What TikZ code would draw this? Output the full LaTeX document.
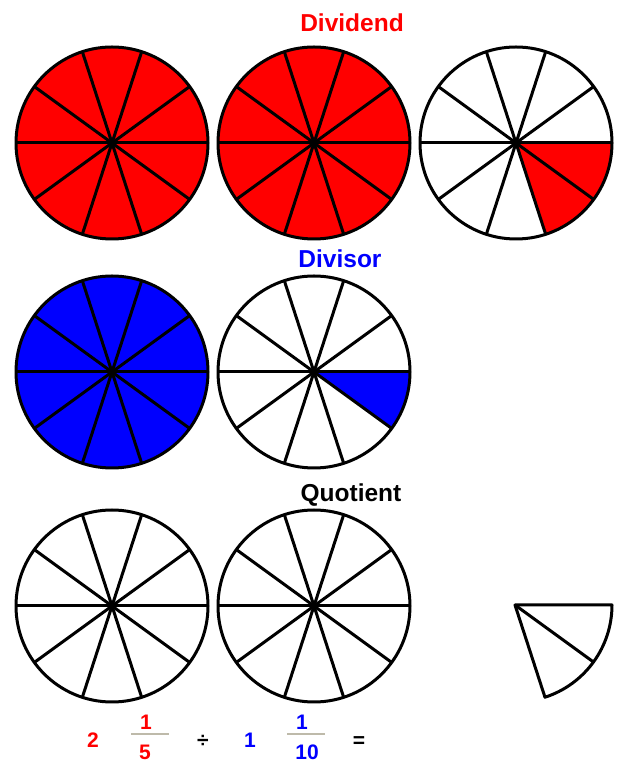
\documentclass[tikz,border=0pt]{standalone}
\usepackage{fontspec}
\setmainfont{Liberation Sans}
\usepackage{tikz}
\usetikzlibrary{calc}
\definecolor{dvdred}{RGB}{255,0,0}
\definecolor{dvsblue}{RGB}{0,0,255}
\definecolor{barcol}{RGB}{190,186,170}
\tikzset{
  pie/.style   ={draw, line width=3pt, line join=round},
  hub/.style   ={fill=black},
  ttl/.style   ={font=\bfseries\fontsize{24.5}{28}\selectfont, anchor=base},
  num/.style   ={font=\bfseries\fontsize{21}{24}\selectfont, anchor=base},
  fbar/.style  ={line width=1.6pt, draw=barcol},
}
% centre, fill colour, filled angle (clockwise from 3 o'clock)
\newcommand{\fracwheel}[3]{%
  \fill[#2] (#1) -- ++(0:96) arc[start angle=0, end angle=-#3, radius=96] -- cycle;
  \draw[pie] (#1) circle[radius=96];
  \foreach \a in {0,36,...,324} \draw[pie] (#1) -- ++(\a:96);
  \fill[hub] (#1) circle[radius=3.5];
}

\begin{document}
\begin{tikzpicture}[x=1pt, y=1pt]
  \useasboundingbox (0,0) rectangle (621,763);

  % Dividend row
  \node[ttl, text=dvdred] (dividend) at (352,731) {Dividend};
  \coordinate (a1) at (112,620);
  \coordinate (a2) at (314,620);
  \coordinate (a3) at (516,620);
  \fracwheel{a1}{dvdred}{360}
  \fracwheel{a2}{dvdred}{360}
  \fracwheel{a3}{dvdred}{72}

  % Divisor row
  \node[ttl, text=dvsblue] (divisor) at (340,495) {Divisor};
  \coordinate (b1) at (112,391);
  \coordinate (b2) at (314,391);
  \fracwheel{b1}{dvsblue}{360}
  \fracwheel{b2}{dvsblue}{36}

  % Quotient row
  \node[ttl] (quotient) at (351,261) {Quotient};
  \coordinate (c1) at (112,157);
  \coordinate (c2) at (314,157);
  \coordinate (c3) at (515,158);
  \fracwheel{c1}{white}{0}
  \fracwheel{c2}{white}{0}
  \draw[pie] (c3) -- ++(0:97) arc[start angle=0, end angle=-72, radius=97] -- cycle;
  \draw[pie] (c3) -- ++(-36:97);

  % the sum
  \node[num, text=dvdred]  (whA)  at (93,16)  {2};
  \node[num, text=dvdred]  (nuA)  at (146,34) {1};
  \node[num, text=dvdred]  (deA)  at (145,4)  {5};
  \draw[fbar] (131,29) -- (169,29);
  \node[num]               (divs) at (203,16) {÷};
  \node[num, text=dvsblue] (whB)  at (250,16) {1};
  \node[num, text=dvsblue] (nuB)  at (302,34) {1};
  \node[num, text=dvsblue] (deB)  at (307,4)  {10};
  \draw[fbar] (287,29) -- (325,29);
  \node[num]               (eq)   at (359,16) {=};
\end{tikzpicture}
\end{document}
